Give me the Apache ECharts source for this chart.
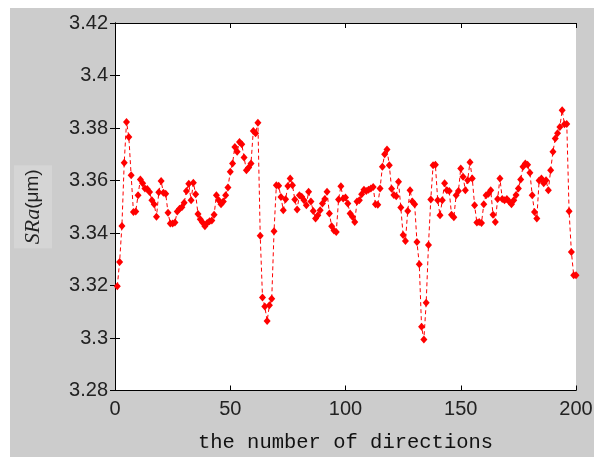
<!DOCTYPE html>
<html>
<head>
<meta charset="utf-8">
<script src="https://cdn.jsdelivr.net/npm/echarts@6/dist/echarts.min.js"></script>
<style>
  html, body { margin: 0; padding: 0; background: #fff; }
  #chart { width: 594px; height: 457px; }
</style>
</head>
<body>
<div id="chart"></div>
<script>
// direction index 1..200
const directions = Array.from({ length: 200 }, (_, i) => i + 1)

// SRa values
const sraValues = [
  3.3197, 3.3290, 3.3427, 3.3668, 3.3823, 3.3766, 3.3620, 3.3480, 3.3482, 3.3544,
  3.3604, 3.3590, 3.3570, 3.3568, 3.3556, 3.3525, 3.3510, 3.3462, 3.3555, 3.3598,
  3.3553, 3.3550, 3.3477, 3.3436, 3.3436, 3.3440, 3.3482, 3.3492, 3.3498, 3.3515,
  3.3560, 3.3588, 3.3525, 3.3591, 3.3548, 3.3472, 3.3452, 3.3440, 3.3426, 3.3438,
  3.3445, 3.3448, 3.3470, 3.3544, 3.3525, 3.3510, 3.3520, 3.3544, 3.3573, 3.3633,
  3.3665, 3.3728, 3.3710, 3.3747, 3.3738, 3.3688, 3.3639, 3.3650, 3.3665, 3.3789,
  3.3780, 3.3820, 3.3390, 3.3154, 3.3120, 3.3065, 3.3125, 3.3150, 3.3407, 3.3582,
  3.3580, 3.3537, 3.3487, 3.3529, 3.3579, 3.3608, 3.3582, 3.3528, 3.3490, 3.3544,
  3.3538, 3.3525, 3.3506, 3.3557, 3.3520, 3.3484, 3.3455, 3.3468, 3.3487, 3.3512,
  3.3530, 3.3557, 3.3474, 3.3426, 3.3410, 3.3404, 3.3528, 3.3578, 3.3531, 3.3535,
  3.3512, 3.3474, 3.3462, 3.3442, 3.3520, 3.3525, 3.3548, 3.3565, 3.3560, 3.3565,
  3.3570, 3.3575, 3.3510, 3.3508, 3.3570, 3.3652, 3.3700, 3.3718, 3.3658, 3.3569,
  3.3545, 3.3540, 3.3595, 3.3497, 3.3392, 3.3370, 3.3484, 3.3563, 3.3520, 3.3510,
  3.3366, 3.3281, 3.3043, 3.2994, 3.3134, 3.3354, 3.3528, 3.3658, 3.3660, 3.3525,
  3.3468, 3.3525, 3.3590, 3.3563, 3.3560, 3.3470, 3.3460, 3.3544, 3.3560, 3.3646,
  3.3614, 3.3563, 3.3601, 3.3670, 3.3608, 3.3506, 3.3440, 3.3442, 3.3438, 3.3510,
  3.3544, 3.3550, 3.3563, 3.3470, 3.3442, 3.3530, 3.3608, 3.3530, 3.3525, 3.3530,
  3.3520, 3.3510, 3.3525, 3.3545, 3.3570, 3.3604, 3.3652, 3.3665, 3.3660, 3.3630,
  3.3544, 3.3480, 3.3455, 3.3600, 3.3608, 3.3590, 3.3601, 3.3563, 3.3639, 3.3710,
  3.3760, 3.3780, 3.3804, 3.3868, 3.3814, 3.3815, 3.3483, 3.3328, 3.3239, 3.3239
]

const xTicks = [0, 50, 100, 150, 200]
const yTicks = [3.28, 3.30, 3.32, 3.34, 3.36, 3.38, 3.40, 3.42]

const chart = echarts.init(document.getElementById('chart'))

const tickLabel = {
  fontFamily: 'Liberation Sans',
  fontSize: 20,
  color: '#222'
}

// matlab style box: ticks inward on all four sides
const boxAxis = {
  axisLine: { show: true, lineStyle: { color: '#000', width: 1 } },
  axisTick: { show: true, inside: true, length: 5, lineStyle: { color: '#000' } },
  splitLine: { show: false }
}

chart.setOption({
  animation: false,
  graphic: [
    {
      type: 'rect',
      z: -10,
      shape: { x: 10, y: 8, width: 584, height: 449 },
      style: { fill: '#cccccc' }
    },
    {
      type: 'rect',
      z: -9,
      shape: { x: 115, y: 23, width: 461, height: 367.5 },
      style: { fill: '#ffffff' }
    }
  ],
  grid: { left: 115, right: 18, top: 23, bottom: 66.5, outerBoundsMode: 'none' },
  xAxis: [
    {
      type: 'value',
      min: xTicks[0],
      max: xTicks[xTicks.length - 1],
      interval: 50,
      ...boxAxis,
      axisLabel: { ...tickLabel, margin: 9 },
      name: 'the number of directions',
      nameLocation: 'middle',
      nameGap: 42,
      nameTextStyle: {
        fontFamily: 'Liberation Mono',
        fontSize: 20.5,
        color: '#111'
      }
    },
    {
      type: 'value',
      position: 'top',
      min: xTicks[0],
      max: xTicks[xTicks.length - 1],
      interval: 50,
      ...boxAxis,
      axisLabel: { show: false }
    }
  ],
  yAxis: [
    {
      type: 'value',
      min: yTicks[0],
      max: yTicks[yTicks.length - 1],
      interval: 0.02,
      ...boxAxis,
      axisLabel: {
        ...tickLabel,
        margin: 7,
        formatter: v => String(parseFloat(v.toFixed(2)))
      },
      name: '{i|SRa}{n|(μm)}',
      nameLocation: 'middle',
      nameGap: 63,
      nameRotate: 90,
      nameTextStyle: {
        backgroundColor: '#d5d5d5',
        padding: [8, 4, 8, 4],
        rich: {
          i: { fontFamily: 'Liberation Serif', fontStyle: 'italic', fontSize: 22, color: '#222' },
          n: { fontFamily: 'Liberation Sans', fontSize: 19, color: '#222' }
        }
      }
    },
    {
      type: 'value',
      position: 'right',
      min: yTicks[0],
      max: yTicks[yTicks.length - 1],
      interval: 0.02,
      ...boxAxis,
      axisLabel: { show: false }
    }
  ],
  series: [
    {
      type: 'line',
      data: directions.map((d, i) => [d, sraValues[i]]),
      lineStyle: { color: '#ff0000', width: 1, type: [4, 3] },
      symbol: 'diamond',
      symbolSize: [7, 8],
      itemStyle: { color: '#ff0000' },
      clip: false
    }
  ]
})
</script>
</body>
</html>
